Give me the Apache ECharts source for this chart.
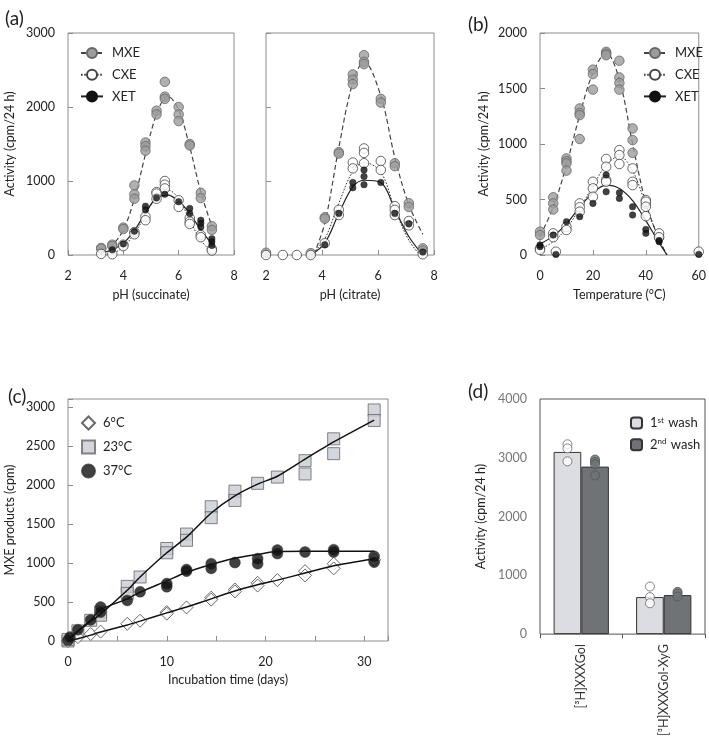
<!DOCTYPE html>
<html><head><meta charset="utf-8">
<script src="https://cdn.jsdelivr.net/npm/echarts@6/dist/echarts.min.js"></script>
<style>html,body{margin:0;padding:0;background:#fff}#c{width:709px;height:739px}</style>
</head><body><div id="c"></div>
<script>
// ---------- Panel (a) left: pH (succinate) ----------
const mxeSucc = [[3.2,95],[3.2,85],[3.6,140],[3.6,120],[4.0,370],[4.0,350],[4.4,940],[4.4,820],[4.4,760],[4.8,1520],[4.8,1470],[4.8,1410],[5.2,1950],[5.2,1900],[5.5,2340],[5.5,2140],[5.5,2110],[6.0,2000],[6.0,1900],[6.0,1810],[6.4,1500],[6.4,1480],[6.8,840],[6.8,770],[7.2,390],[7.2,340]];
const cxeSucc = [[3.2,15],[3.6,10],[4.0,140],[4.0,120],[4.4,310],[4.4,280],[4.8,520],[4.8,470],[5.2,850],[5.2,830],[5.2,760],[5.5,1000],[5.5,950],[5.5,900],[6.0,740],[6.0,650],[6.4,500],[6.4,450],[6.4,420],[6.8,270],[6.8,240],[7.2,80],[7.2,60]];
const xetSucc = [[3.6,70],[4.0,150],[4.4,320],[4.8,660],[4.8,610],[5.2,770],[5.5,820],[6.0,720],[6.4,630],[6.4,560],[6.8,470],[6.8,430],[6.8,380],[7.2,220],[7.2,180],[7.2,130]];
const mxeSuccFit = [[3.2,80],[3.6,140],[4.0,340],[4.4,760],[4.8,1360],[5.2,1900],[5.6,2150],[6.0,1960],[6.4,1460],[6.8,850],[7.2,390]];
const cxeSuccFit = [[3.2,0],[3.6,20],[4.0,110],[4.4,290],[4.8,540],[5.2,790],[5.6,880],[6.0,760],[6.4,470],[6.8,200],[7.2,40]];
const xetSuccFit = [[3.2,30],[3.6,70],[4.0,160],[4.4,330],[4.8,570],[5.2,770],[5.6,810],[6.0,730],[6.4,560],[6.8,340],[7.2,150]];

// ---------- Panel (a) right: pH (citrate) ----------
const mxeCitr = [[2.0,30],[3.6,25],[4.1,510],[4.1,490],[4.6,1390],[4.6,1370],[5.1,2440],[5.1,2370],[5.1,2310],[5.5,2700],[5.5,2610],[5.5,2580],[6.1,2110],[6.1,2060],[6.6,1240],[6.6,1200],[7.1,700],[7.1,650],[7.6,90],[7.6,60]];
const cxeCitr = [[2.0,0],[2.6,0],[3.1,0],[3.6,0],[4.1,160],[4.6,610],[4.6,540],[5.1,1250],[5.1,1170],[5.5,1440],[5.5,1380],[5.5,1240],[6.1,1270],[6.1,1150],[6.6,660],[6.6,610],[6.6,540],[7.1,460],[7.1,400],[7.6,10]];
const xetCitr = [[4.1,140],[4.6,560],[5.1,980],[5.1,910],[5.5,1150],[5.5,1060],[5.5,950],[6.1,980],[6.6,560],[7.1,420],[7.6,40]];
const mxeCitrFit = [[3.7,0],[4.1,430],[4.6,1450],[5.1,2330],[5.5,2610],[6.1,2150],[6.6,1320],[7.1,680],[7.6,280]];
const cxeCitrFit = [[3.6,0],[4.1,220],[4.6,700],[5.1,1130],[5.5,1250],[6.1,1120],[6.6,620],[7.1,200],[7.5,0]];
const xetCitrFit = [[3.6,0],[4.1,160],[4.6,560],[5.1,920],[5.5,1010],[6.1,980],[6.6,620],[7.1,250],[7.6,0]];

// ---------- Panel (b): temperature ----------
const mxeTemp = [[0,210],[0,180],[5,520],[5,465],[5,410],[10,870],[10,845],[10,825],[10,760],[15,1320],[15,1280],[15,1260],[15,1045],[20,1670],[20,1630],[20,1490],[25,1830],[25,1815],[25,1800],[30,1750],[30,1600],[30,1550],[30,1490],[35,1140],[35,1035],[35,920],[40,460],[45,160]];
const cxeTemp = [[0,60],[0,45],[5,195],[5,160],[6,30],[10,255],[10,225],[15,465],[15,430],[15,390],[20,660],[20,600],[20,525],[25,865],[25,795],[25,675],[25,660],[30,945],[30,900],[30,820],[35,780],[35,660],[35,630],[40,495],[40,480],[40,435],[40,350],[45,195],[45,160],[60,30]];
const xetTemp = [[0,90],[0,75],[5,180],[6,5],[10,300],[15,345],[20,465],[25,720],[25,570],[30,560],[30,510],[35,435],[35,360],[40,230],[40,195],[45,130],[45,120],[60,5]];
const mxeTempFit = [[0,170],[5,430],[10,810],[15,1260],[20,1640],[25,1820],[30,1580],[35,1000],[40,470],[45,140],[48,0]];
const cxeTempFit = [[0,50],[5,120],[10,240],[15,420],[20,620],[25,810],[30,890],[35,760],[40,450],[45,140],[48,0]];
const xetTempFit = [[0,100],[5,170],[10,280],[15,430],[20,560],[25,630],[30,600],[35,490],[40,310],[45,110],[48,0]];

// ---------- Panel (c): incubation time ----------
const pts6 = [[0,0],[1,50],[2.3,90],[3.3,120],[6,220],[7.3,260],[10,370],[10,350],[12,430],[14.5,555],[14.5,530],[16.9,660],[16.9,635],[19.2,745],[19.2,710],[21.2,780],[24,895],[24,840],[26.9,990],[26.9,930],[31,1040]];
const pts23 = [[0,0],[0,20],[1,130],[2.3,265],[3.3,370],[3.3,330],[6,700],[6,610],[7.3,820],[10,1185],[10,1130],[12,1370],[12,1290],[14.5,1720],[14.5,1580],[16.9,1920],[16.9,1800],[19.2,2020],[21.2,2100],[24,2310],[24,2140],[26.9,2590],[26.9,2400],[31,2960],[31,2825]];
const pts37 = [[0,10],[0.2,50],[1,145],[2.3,270],[3.3,435],[3.3,370],[6,520],[7.3,630],[10,735],[10,695],[12,915],[12,895],[14.5,990],[14.5,930],[16.9,1005],[19.2,1055],[19.2,990],[21.2,1165],[21.2,1120],[24,1140],[26.9,1170],[26.9,1140],[31,1085],[31,1010]];
const fit6 = [[0,0],[1,30],[2.3,75],[3.3,115],[6,205],[7.3,255],[10,360],[12,435],[14.5,540],[16.9,640],[19.2,720],[21.2,780],[24,870],[26.9,965],[31,1055]];
const fit23 = [[0,0],[1,120],[2.3,250],[3.3,345],[6,650],[7.3,820],[10,1130],[12,1330],[14.5,1640],[16.9,1860],[19.2,2010],[21.2,2110],[24,2330],[26.9,2550],[31,2830]];
const fit37 = [[0,0],[0.2,40],[1,130],[2.3,270],[3.3,400],[6,540],[7.3,625],[10,770],[12,880],[14.5,980],[16.9,1060],[19.2,1110],[21.2,1145],[24,1150],[26.9,1150],[31,1150]];

// ---------- Panel (d): bars ----------
const substrates = ['[³H]XXXGol', '[³H]XXXGol-XyG'];
const wash1 = [3100, 630];
const wash2 = [2850, 665];
const wash1Pts = [[0,3230],[0,3160],[0,2940],[1,810],[1,630],[1,525]];
const wash2Pts = [[0,2970],[0,2930],[0,2890],[0,2700],[1,720],[1,690],[1,640]];

// ---------- styling ----------
const FONT = 'Lato, "Open Sans", sans-serif';
const FS = 12.5;
const BORDER = '#8c8c8c';
const DARK = '#222';
const plain = v => String(v);

const symMXE = {color:'#9c9c9c', borderColor:'#666', borderWidth:1};
const symCXE = {color:'#ffffff', borderColor:'#444', borderWidth:1};
const symXET = {color:'#111', borderColor:'#111', borderWidth:0.5};
const lnMXE = {color:'#444', width:1.2, type:[5,3]};
const lnCXE = {color:'#333', width:1, type:[1.6,1.6]};
const lnXET = {color:'#222', width:1.2, type:'solid'};

const chart = echarts.init(document.getElementById('c'), null, {renderer:'canvas'});

const grids = [
  {left:68, top:33, width:166, height:222},
  {left:266, top:33, width:168, height:222},
  {left:540, top:33, width:165, height:222},
  {left:68, top:399, width:320, height:242},
  {left:540, top:399, width:165, height:242}
].map((g,i) => Object.assign({show:true, borderColor: i===4 ? '#555' : BORDER, borderWidth:1, backgroundColor:'transparent'}, g));

function xVal(gi, min, max, interval, name, fmt, gap) {
  return {type:'value', gridIndex:gi, min, max, interval, name, nameLocation:'middle', nameGap: gap,
    nameTextStyle:{fontFamily:FONT, fontSize:FS, color:DARK},
    axisLine:{show:false}, splitLine:{show:false},
    axisTick:{show:true, inside:true, length:5, lineStyle:{color:BORDER}},
    axisLabel:{margin:14, fontFamily:FONT, fontSize:FS, color:DARK, formatter: fmt || plain}};
}
function yVal(gi, min, max, interval, name, fmt, gap, showLabel, color) {
  return {type:'value', gridIndex:gi, min, max, interval, name, nameLocation:'middle', nameGap: gap,
    nameTextStyle:{fontFamily:FONT, fontSize:FS, color:DARK},
    axisLine:{show:false}, splitLine:{show:false},
    axisTick:{show: gi!==4, inside:true, length:5, lineStyle:{color:BORDER}},
    axisLabel:{show: showLabel, margin:13, fontFamily:FONT, fontSize:FS, color: color||DARK, formatter: fmt || plain}};
}

const xAxes = [
  xVal(0, 2, 8, 2, 'pH (succinate)', null, 33),
  xVal(1, 2, 8, 2, 'pH (citrate)', null, 33),
  xVal(2, 0, 60, 20, 'Temperature (°C)', null, 33),
  xVal(3, 0, 32.4, 5, 'Incubation time (days)', v => (v % 10 === 0 ? String(v) : ''), 32),
  {type:'category', gridIndex:4, data: substrates, boundaryGap:true,
    axisLine:{show:false}, splitLine:{show:false},
    axisTick:{show:true, inside:false, length:4, alignWithLabel:false, lineStyle:{color:'#555'}},
    axisLabel:{rotate:90, margin:10, fontFamily:FONT, fontSize:FS, color:'#333'}}
];
const yAxes = [
  yVal(0, 0, 3000, 1000, 'Activity (cpm/24 h)', null, 52, true),
  yVal(1, 0, 3000, 1000, '', null, 50, false),
  yVal(2, 0, 2000, 500, 'Activity (cpm/24 h)', null, 50, true),
  yVal(3, 0, 3100, 500, 'MXE products (cpm)', v => (v % 500 === 0 ? String(v) : ''), 52, true),
  yVal(4, 0, 4000, 1000, 'Activity (cpm/24 h)', null, 53, true, '#777')
];

function curve(name, data, gi, ls, is, symSize) {
  return {type:'line', name, data, xAxisIndex:gi, yAxisIndex:gi, smooth:0.35, showSymbol:false,
    symbol:'circle', symbolSize:symSize, itemStyle:is, lineStyle:ls, z:2, silent:true, animation:false};
}
function pts(name, data, gi, symbol, size, is, z) {
  return {type:'scatter', name, data, xAxisIndex:gi, yAxisIndex:gi, symbol, symbolSize:size,
    itemStyle:is, z:z, silent:true, animation:false};
}

const series = [
  curve('MXE', mxeSuccFit, 0, lnMXE, symMXE, 10),
  curve('CXE', cxeSuccFit, 0, lnCXE, symCXE, 10),
  curve('XET', xetSuccFit, 0, lnXET, symXET, 7),
  pts('MXE data', mxeSucc, 0, 'circle', 9.5, symMXE, 3),
  pts('CXE data', cxeSucc, 0, 'circle', 9.5, symCXE, 4),
  pts('XET data', xetSucc, 0, 'circle', 6.5, symXET, 5),
  curve('MXE', mxeCitrFit, 1, lnMXE, symMXE, 10),
  curve('CXE', cxeCitrFit, 1, lnCXE, symCXE, 10),
  curve('XET', xetCitrFit, 1, lnXET, symXET, 7),
  pts('MXE data', mxeCitr, 1, 'circle', 9.5, symMXE, 3),
  pts('CXE data', cxeCitr, 1, 'circle', 9.5, symCXE, 4),
  pts('XET data', xetCitr, 1, 'circle', 6.5, symXET, 5),
  curve('MXE', mxeTempFit, 2, lnMXE, symMXE, 10),
  curve('CXE', cxeTempFit, 2, lnCXE, symCXE, 10),
  curve('XET', xetTempFit, 2, lnXET, symXET, 7),
  pts('MXE data', mxeTemp, 2, 'circle', 9.5, symMXE, 3),
  pts('CXE data', cxeTemp, 2, 'circle', 9.5, symCXE, 4),
  pts('XET data', xetTemp, 2, 'circle', 6.5, symXET, 5),
  pts('23°C', pts23, 3, 'rect', 12, {color:'#c9ccd4', borderColor:'#666', borderWidth:1}, 2),
  pts('6°C', pts6, 3, 'diamond', 13, {color:'#fff', borderColor:'#444', borderWidth:1}, 2),
  Object.assign(curve('fit23', fit23, 3, {color:'#111', width:1.5}, {color:'#111'}, 0), {smooth:0.2, z:3}),
  Object.assign(curve('fit6', fit6, 3, {color:'#111', width:1.5}, {color:'#111'}, 0), {smooth:0.2, z:3}),
  Object.assign(curve('fit37', fit37, 3, {color:'#111', width:1.5}, {color:'#111'}, 0), {smooth:0.3, z:3}),
  pts('37°C', pts37, 3, 'circle', 11, {color:'#111', borderColor:'#333', borderWidth:0.5}, 4),
  {type:'bar', name:'1st wash', data: wash1, xAxisIndex:4, yAxisIndex:4, barGap:'0%', barCategoryGap:'33%',
    itemStyle:{color:'#dcdde2', borderColor:'#333', borderWidth:1}, silent:true, animation:false},
  {type:'bar', name:'2nd wash', data: wash2, xAxisIndex:4, yAxisIndex:4, barGap:'0%', barCategoryGap:'33%',
    itemStyle:{color:'#6f7376', borderColor:'#333', borderWidth:1}, silent:true, animation:false},
  Object.assign(pts('w1 pts', wash1Pts, 4, 'circle', 9, {color:'#fff', borderColor:'#666', borderWidth:1}, 5), {symbolOffset:[-13.8,0]}),
  Object.assign(pts('w2 pts', wash2Pts, 4, 'circle', 9, {color:'#6f7376', borderColor:'#555', borderWidth:1}, 5), {symbolOffset:[13.8,0]})
];

const legTxt = {fontFamily:FONT, fontSize:13, color:DARK, padding:[0,0,0,4]};
const legends = [
  {left:75, top:41.5, orient:'vertical', itemWidth:22, itemHeight:12.5, itemGap:8.7, selectedMode:false,
    data:['MXE','CXE','XET'], textStyle:legTxt},
  {left:638, top:41.5, orient:'vertical', itemWidth:22, itemHeight:12.5, itemGap:8.7, selectedMode:false,
    data:['MXE','CXE','XET'], textStyle:legTxt},
  {left:76, top:410.5, orient:'vertical', itemWidth:13, itemHeight:13, itemGap:9, selectedMode:false,
    data:['6°C','23°C','37°C'], textStyle:Object.assign({}, legTxt, {padding:[0,0,0,3]})},
  {left:625, top:411, orient:'vertical', itemWidth:11, itemHeight:11, itemGap:8.3, selectedMode:false,
    data:['1st wash','2nd wash'],
    formatter: n => n.replace(/^(\d)(st|nd) /, '$1{sup|$2} '),
    textStyle:Object.assign({}, legTxt, {padding:[0,0,0,3], rich:{sup:{fontFamily:FONT, fontSize:8, color:DARK, verticalAlign:'top', padding:[0,1,6,0]}}})}
];

const titles = [
  {text:'(a)', left:0, top:4},
  {text:'(b)', left:463, top:10},
  {text:'(c)', left:3, top:382},
  {text:'(d)', left:463, top:377}
].map(t => Object.assign(t, {textStyle:{fontFamily:FONT, fontSize:19, fontWeight:'normal', color:DARK}}));

chart.setOption({
  animation:false,
  backgroundColor:'#fff',
  title: titles,
  grid: grids,
  xAxis: xAxes,
  yAxis: yAxes,
  legend: legends,
  series: series
});
</script></body></html>
